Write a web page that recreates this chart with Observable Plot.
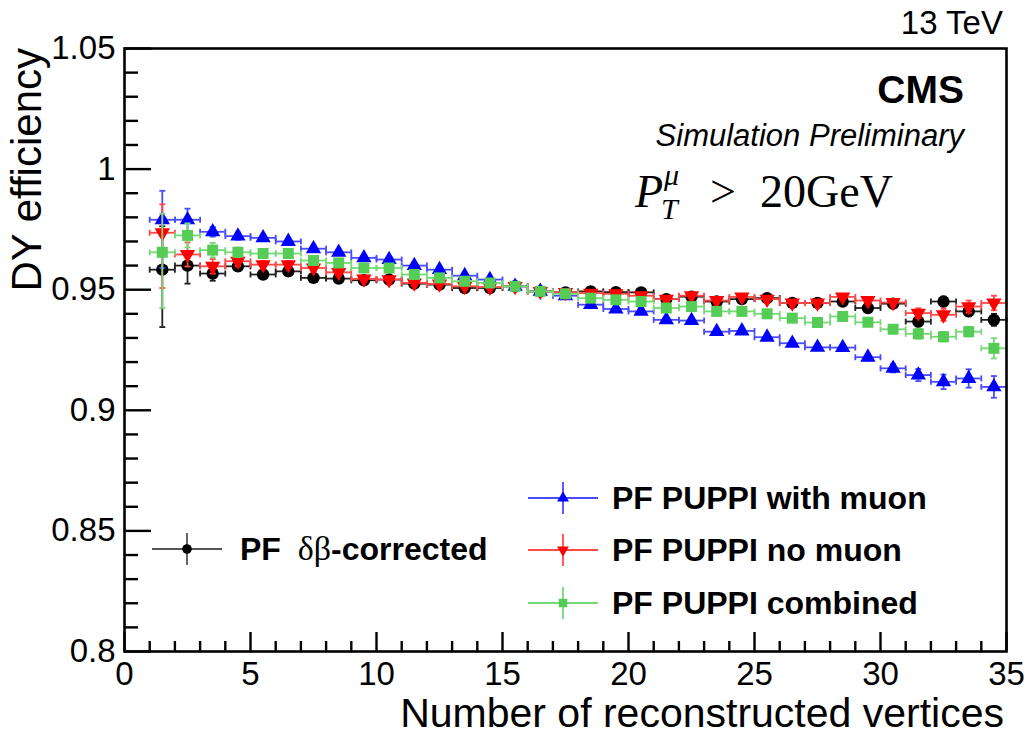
<!DOCTYPE html>
<html><head><meta charset="utf-8">
<script src="https://cdn.jsdelivr.net/npm/d3@7"></script>
<script src="https://cdn.jsdelivr.net/npm/@observablehq/plot@0.6"></script>
<style>
html,body{margin:0;padding:0;background:#fff;}
#chart{position:relative;}
#chart svg{display:block;}
</style>
</head><body><div id="chart"></div>
<script>
// ---------------- data ----------------
const nVertices = [1.5, 2.5, 3.5, 4.5, 5.5, 6.5, 7.5, 8.5, 9.5, 10.5, 11.5, 12.5, 13.5, 14.5, 15.5, 16.5, 17.5,
  18.5, 19.5, 20.5, 21.5, 22.5, 23.5, 24.5, 25.5, 26.5, 27.5, 28.5, 29.5, 30.5, 31.5, 32.5, 33.5, 34.5];

const effDeltaBeta = [0.9583, 0.9600, 0.9567, 0.9597, 0.9563, 0.9576, 0.9549, 0.9546, 0.9539, 0.9542,
  0.9525, 0.9521, 0.9507, 0.9507, 0.9514, 0.9493, 0.9489, 0.9493, 0.9490, 0.9489,
  0.9461, 0.9471, 0.9451, 0.9461, 0.9465, 0.9445, 0.9445, 0.9451, 0.9424, 0.9442,
  0.9368, 0.9451, 0.9410, 0.9375];
const errLoDeltaBeta = [0.0238, 0.0075, 0.003, 0.002, 0.0015, 0.0015, 0.0012, 0.001, 0.001, 0.001,
  0.001, 0.001, 0.001, 0.001, 0.001, 0.001, 0.001, 0.001, 0.001, 0.001,
  0.001, 0.001, 0.001, 0.001, 0.0012, 0.0012, 0.0012, 0.0013, 0.0015, 0.0015,
  0.002, 0.002, 0.002, 0.0025];
const errHiDeltaBeta = [0.018, 0.006, 0.003, 0.002, 0.0015, 0.0015, 0.0012, 0.001, 0.001, 0.001,
  0.001, 0.001, 0.001, 0.001, 0.001, 0.001, 0.001, 0.001, 0.001, 0.001,
  0.001, 0.001, 0.001, 0.001, 0.0012, 0.0012, 0.0012, 0.0013, 0.0015, 0.0015,
  0.002, 0.002, 0.002, 0.0025];

const effWithMuon = [0.9790, 0.9790, 0.9740, 0.9722, 0.9715, 0.9700, 0.9670, 0.9655, 0.9632, 0.9625,
  0.9600, 0.9583, 0.9558, 0.9542, 0.9514, 0.9493, 0.9475, 0.9438, 0.9420, 0.9410,
  0.9375, 0.9372, 0.9326, 0.9329, 0.9303, 0.9278, 0.9261, 0.9260, 0.9220, 0.9174,
  0.9146, 0.9118, 0.9132, 0.9097];
const errLoWithMuon = [0.020, 0.005, 0.002, 0.0015, 0.0012, 0.001, 0.001, 0.001, 0.001, 0.001,
  0.001, 0.001, 0.001, 0.001, 0.001, 0.001, 0.001, 0.001, 0.001, 0.001,
  0.001, 0.001, 0.001, 0.001, 0.001, 0.001, 0.0012, 0.0012, 0.0013, 0.0017,
  0.0025, 0.003, 0.0038, 0.0045];
const errHiWithMuon = [0.012, 0.0046, 0.002, 0.0015, 0.0012, 0.001, 0.001, 0.001, 0.001, 0.001,
  0.001, 0.001, 0.001, 0.001, 0.001, 0.001, 0.001, 0.001, 0.001, 0.001,
  0.001, 0.001, 0.001, 0.001, 0.001, 0.001, 0.0012, 0.0012, 0.0013, 0.0017,
  0.0025, 0.003, 0.0038, 0.0045];

const effNoMuon = [0.9736, 0.9646, 0.9597, 0.9618, 0.9604, 0.9604, 0.9590, 0.9572, 0.9545, 0.9542,
  0.9528, 0.9524, 0.9514, 0.9511, 0.9514, 0.9493, 0.9489, 0.9486, 0.9483, 0.9475,
  0.9461, 0.9475, 0.9455, 0.9470, 0.9461, 0.9445, 0.9445, 0.9470, 0.9455, 0.9447,
  0.9403, 0.9396, 0.9430, 0.9445];
const errLoNoMuon = [0.0229, 0.005, 0.003, 0.002, 0.0015, 0.0015, 0.0012, 0.001, 0.001, 0.001,
  0.001, 0.001, 0.001, 0.001, 0.001, 0.001, 0.001, 0.001, 0.001, 0.001,
  0.001, 0.001, 0.001, 0.001, 0.001, 0.0012, 0.0012, 0.0013, 0.0015, 0.0015,
  0.002, 0.0025, 0.0025, 0.003];
const errHiNoMuon = [0.0118, 0.005, 0.003, 0.002, 0.0015, 0.0015, 0.0012, 0.001, 0.001, 0.001,
  0.001, 0.001, 0.001, 0.001, 0.001, 0.001, 0.001, 0.001, 0.001, 0.001,
  0.001, 0.001, 0.001, 0.001, 0.001, 0.0012, 0.0012, 0.0013, 0.0015, 0.0015,
  0.002, 0.0025, 0.0025, 0.003];

const effCombined = [0.9655, 0.9725, 0.9664, 0.9655, 0.9650, 0.9650, 0.9621, 0.9611, 0.9590, 0.9590,
  0.9563, 0.9549, 0.9535, 0.9528, 0.9514, 0.9493, 0.9483, 0.9465, 0.9458, 0.9451,
  0.9424, 0.9430, 0.9410, 0.9410, 0.9400, 0.9382, 0.9364, 0.9389, 0.9365, 0.9336,
  0.9317, 0.9305, 0.9326, 0.9257];
const errLoCombined = [0.0231, 0.005, 0.003, 0.002, 0.0015, 0.0015, 0.0012, 0.001, 0.001, 0.001,
  0.001, 0.001, 0.001, 0.001, 0.001, 0.001, 0.001, 0.001, 0.001, 0.001,
  0.001, 0.001, 0.001, 0.001, 0.001, 0.0012, 0.0012, 0.0013, 0.0015, 0.0015,
  0.002, 0.002, 0.002, 0.0042];
const errHiCombined = [0.016, 0.005, 0.003, 0.002, 0.0015, 0.0015, 0.0012, 0.001, 0.001, 0.001,
  0.001, 0.001, 0.001, 0.001, 0.001, 0.001, 0.001, 0.001, 0.001, 0.001,
  0.001, 0.001, 0.001, 0.001, 0.001, 0.0012, 0.0012, 0.0013, 0.0015, 0.0015,
  0.002, 0.002, 0.002, 0.0042];

const xTicksMajor = [0, 5, 10, 15, 20, 25, 30, 35];
const xTicksMinor = [1, 2, 3, 4, 6, 7, 8, 9, 11, 12, 13, 14, 16, 17, 18, 19, 21, 22, 23, 24, 26, 27, 28, 29, 31, 32, 33, 34];
const yTicksMajor = [0.8, 0.85, 0.9, 0.95, 1, 1.05];
const yTicksMinor = [0.81, 0.82, 0.83, 0.84, 0.86, 0.87, 0.88, 0.89, 0.91, 0.92, 0.93, 0.94,
  0.96, 0.97, 0.98, 0.99, 1.01, 1.02, 1.03, 1.04];

const xTitle = "Number of reconstructed vertices";
const yTitle = "DY efficiency";
const legendLabels = [["PF ", "δβ", "-corrected"], ["PF PUPPI with muon"], ["PF PUPPI no muon"], ["PF PUPPI combined"]];

// ---------------- styles / layout ----------------
const W = 1028, H = 736, mL = 124, mR = 22, mT = 48, mB = 85;
const frameW = W - mL - mR, frameH = H - mT - mB;
const xDom = [0, 35], yDom = [0.8, 1.05];
const yTickLenMajor = 27, yTickLenMinor = 14, xTickLenMajor = 19, xTickLenMinor = 10;
const TICK_COLOR = "#000000";
const pxToX = px => px * (xDom[1] - xDom[0]) / frameW;
const pxToY = px => px * (yDom[1] - yDom[0]) / frameH;

const SANS = "'Liberation Sans', Arial, Helvetica, sans-serif";
const SERIF = "'Liberation Serif', 'Times New Roman', serif";

const series = [
  {eff: effDeltaBeta, lo: errLoDeltaBeta, hi: errHiDeltaBeta, color: "#000000", bar: "#222222", symbol: "circle", rotate: 0, r: 6.2},
  {eff: effWithMuon, lo: errLoWithMuon, hi: errHiWithMuon, color: "#0000ff", bar: "#4a4aff", symbol: "triangle", rotate: 0, r: 5.7},
  {eff: effNoMuon, lo: errLoNoMuon, hi: errHiNoMuon, color: "#ff0000", bar: "#ff4a4a", symbol: "triangle", rotate: 180, r: 5.7},
  {eff: effCombined, lo: errLoCombined, hi: errHiCombined, color: "#55cc55", bar: "#77d877", symbol: "square", rotate: 0, r: 6.2}
];

const vCap = {draw(ctx, size) { const r = Math.sqrt(size / Math.PI); ctx.moveTo(0, -r); ctx.lineTo(0, r); }};
const hCap = {draw(ctx, size) { const r = Math.sqrt(size / Math.PI); ctx.moveTo(-r, 0); ctx.lineTo(r, 0); }};
const halfBin = 0.5;

const marks = [];
for (const s of series) {
  const data = nVertices.map((x, i) => ({x, y: s.eff[i], lo: s.eff[i] - s.lo[i], hi: s.eff[i] + s.hi[i]}));
  marks.push(
    Plot.ruleY(data, {y: "y", x1: d => d.x - halfBin, x2: d => d.x + halfBin, stroke: s.bar, strokeWidth: 1.8}),
    Plot.ruleX(data, {x: "x", y1: "lo", y2: "hi", stroke: s.bar, strokeWidth: 1.8}),
    Plot.dot(data, {x: d => d.x - halfBin, y: "y", symbol: vCap, r: 3, stroke: s.bar, fill: "none", strokeWidth: 1.8}),
    Plot.dot(data, {x: d => d.x + halfBin, y: "y", symbol: vCap, r: 3, stroke: s.bar, fill: "none", strokeWidth: 1.8}),
    Plot.dot(data, {x: "x", y: "lo", symbol: hCap, r: 3, stroke: s.bar, fill: "none", strokeWidth: 1.8}),
    Plot.dot(data, {x: "x", y: "hi", symbol: hCap, r: 3, stroke: s.bar, fill: "none", strokeWidth: 1.8}),
    Plot.dot(data, {x: "x", y: "y", symbol: s.symbol, rotate: s.rotate, r: s.r, fill: s.color, stroke: "none"})
  );
}
marks.push(
  Plot.frame({stroke: "black", strokeWidth: 2.6}),
  Plot.ruleY(yTicksMajor.map(v => ({v})), {y: "v", x1: () => xDom[0], x2: () => xDom[0] + pxToX(yTickLenMajor), stroke: TICK_COLOR, strokeWidth: 2.4}),
  Plot.ruleY(yTicksMinor.map(v => ({v})), {y: "v", x1: () => xDom[0], x2: () => xDom[0] + pxToX(yTickLenMinor), stroke: TICK_COLOR, strokeWidth: 2.4}),
  Plot.ruleX(xTicksMajor.map(v => ({v})), {x: "v", y1: () => yDom[0], y2: () => yDom[0] + pxToY(xTickLenMajor), stroke: TICK_COLOR, strokeWidth: 2.4}),
  Plot.ruleX(xTicksMinor.map(v => ({v})), {x: "v", y1: () => yDom[0], y2: () => yDom[0] + pxToY(xTickLenMinor), stroke: TICK_COLOR, strokeWidth: 2.4})
);

const chart = Plot.plot({
  width: W, height: H,
  marginLeft: mL, marginRight: mR, marginTop: mT, marginBottom: mB,
  style: {fontFamily: SANS, fontSize: "33px", background: "white", color: "black", overflow: "visible"},
  x: {domain: xDom, ticks: xTicksMajor, tickSize: 0, tickPadding: 10, tickFormat: d => String(d), label: null},
  y: {domain: yDom, ticks: yTicksMajor, tickSize: 0, tickPadding: 9, tickFormat: d => String(d), label: null},
  marks
});
document.getElementById("chart").appendChild(chart);

// ---------------- annotations & legend ----------------
const svg = d3.select(chart);
const g = svg.append("g").attr("font-family", SANS).attr("fill", "black").attr("text-anchor", "start");

g.append("text").attr("x", 1004).attr("y", 727).attr("text-anchor", "end")
  .attr("font-size", 41).text(xTitle);
g.append("text").attr("transform", "translate(41,48) rotate(-90)").attr("text-anchor", "end")
  .attr("font-size", 42).text(yTitle);

g.append("text").attr("x", 1003).attr("y", 34).attr("text-anchor", "end").attr("font-size", 33).text("13 TeV");
g.append("text").attr("x", 964).attr("y", 103).attr("text-anchor", "end").attr("font-size", 39)
  .attr("font-weight", "bold").text("CMS");
g.append("text").attr("x", 964).attr("y", 146).attr("text-anchor", "end").attr("font-size", 31)
  .attr("font-style", "italic").text("Simulation Preliminary");

const pt = g.append("g").attr("font-family", SERIF).attr("text-anchor", "start");
pt.append("text").attr("x", 635).attr("y", 207).attr("font-size", 46).attr("font-style", "italic").text("P");
pt.append("text").attr("x", 661).attr("y", 219).attr("font-size", 30).attr("font-style", "italic").text("T");
pt.append("text").attr("x", 664).attr("y", 185).attr("font-size", 30).attr("font-style", "italic").text("μ");
pt.append("text").attr("x", 710).attr("y", 207).attr("font-size", 46).text(">");
pt.append("text").attr("x", 760).attr("y", 207).attr("font-size", 46).text("20GeV");

const symbolTypes = {circle: d3.symbolCircle, triangle: d3.symbolTriangle, square: d3.symbolSquare};
const legendPos = [{cx: 187, cy: 549, tx: 240}, {cx: 563, cy: 498, tx: 612}, {cx: 563, cy: 550, tx: 612}, {cx: 563, cy: 603, tx: 612}];
series.forEach((s, i) => {
  const p = legendPos[i];
  const lg = g.append("g");
  const lineColor = i === 0 ? "#555" : s.bar;
  lg.append("line").attr("x1", p.cx - 35).attr("x2", p.cx + 35).attr("y1", p.cy).attr("y2", p.cy)
    .attr("stroke", lineColor).attr("stroke-width", 1.8);
  lg.append("line").attr("x1", p.cx).attr("x2", p.cx).attr("y1", p.cy - 16).attr("y2", p.cy + 16)
    .attr("stroke", lineColor).attr("stroke-width", 1.8);
  lg.append("path").attr("d", d3.symbol(symbolTypes[s.symbol], Math.PI * s.r * s.r * 0.6)())
    .attr("transform", `translate(${p.cx},${p.cy}) rotate(${s.rotate})`).attr("fill", s.color);
  const t = lg.append("text").attr("x", p.tx).attr("y", p.cy + 11).attr("font-size", 32)
    .attr("font-weight", "bold").attr("text-anchor", "start");
  const parts = legendLabels[i];
  if (parts.length === 3) {
    t.append("tspan").text(parts[0]);
    t.append("tspan").attr("dx", 8).attr("font-weight", "normal").attr("font-family", SERIF).attr("font-size", 34).text(parts[1]);
    t.append("tspan").text(parts[2]);
  } else {
    t.text(parts[0]);
  }
});
</script>
</body></html>
